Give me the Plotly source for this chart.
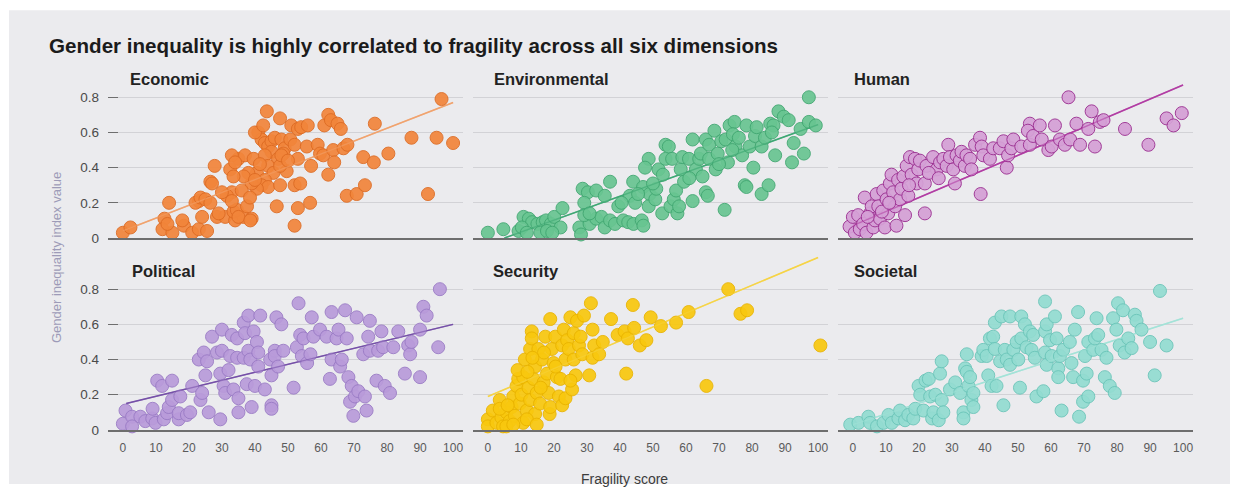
import plotly.graph_objects as go

# ---------------- data ----------------
panel_names = ["Economic", "Environmental", "Human", "Political", "Security", "Societal"]

econ_x = [0, 2.3, 12.6, 14, 12, 15, 13.5, 18.5, 18, 21, 23, 24, 25.5, 23, 22, 23.5, 25, 26.5, 26.5, 27, 27.8,
          28.5, 31, 34, 36.5, 39, 33.5, 34.5, 32.5, 33, 35, 37, 39.6, 40.6, 41, 42, 43, 44, 45, 46, 48, 49, 50.7,
          52, 45, 47, 48.6, 43, 44, 45.6, 43, 42, 44, 40.6, 39, 38, 36.6, 33, 34, 33.5, 31.5, 30, 33, 35, 37.6,
          38.6, 40, 49.6, 47.6, 48, 43.6, 40, 42.5, 47.6, 51, 53, 54, 56, 46.6, 52, 53, 56.7, 52, 53.7, 47.6, 53,
          57, 55.7, 59, 59.7, 60.7, 62.2, 63.7, 64, 61, 62.2, 63, 65, 66, 66.8, 68, 67.8, 70.8, 73.3, 72.8, 76,
          76.3, 80.4, 87.4, 92.4, 96.5, 95, 100, 29, 36, 41.5, 38.5, 50]
econ_y = [0.03, 0.06, 0.11, 0.2, 0.05, 0.03, 0.08, 0.07, 0.1, 0.03, 0.05, 0.12, 0.04, 0.21, 0.2, 0.23, 0.22,
          0.32, 0.2, 0.31, 0.41, 0.12, 0.12, 0.1, 0.12, 0.11, 0.15, 0.16, 0.39, 0.26, 0.45, 0.47, 0.45, 0.37, 0.6,
          0.56, 0.54, 0.52, 0.55, 0.57, 0.56, 0.51, 0.56, 0.53, 0.49, 0.45, 0.48, 0.47, 0.41, 0.37, 0.33, 0.3,
          0.29, 0.28, 0.31, 0.37, 0.35, 0.47, 0.43, 0.35, 0.24, 0.26, 0.21, 0.12, 0.18, 0.1, 0.33, 0.38, 0.41,
          0.47, 0.72, 0.6, 0.64, 0.68, 0.64, 0.62, 0.63, 0.64, 0.18, 0.07, 0.17, 0.2, 0.3, 0.31, 0.3, 0.45, 0.41,
          0.52, 0.53, 0.48, 0.47, 0.36, 0.5, 0.43, 0.64, 0.7, 0.67, 0.65, 0.62, 0.51, 0.53, 0.24, 0.25, 0.3, 0.46,
          0.43, 0.65, 0.48, 0.57, 0.25, 0.79, 0.57, 0.54, 0.14, 0.27, 0.42, 0.23, 0.44]

env_x = [0, 4.7, 9.3, 10.8, 12.4, 13.4, 15, 16.6, 17.6, 19.1, 20.1, 22, 10.3, 11.8, 15.9, 17.9, 19.5, 22.6,
         27.7, 28.2, 30.8, 32.8, 34.4, 35.4, 37, 38.5, 41, 42.5, 44.1, 46.6, 47.1, 28.7, 30.3, 32.8, 29.2, 29.2,
         30.8, 35.4, 37, 39.5, 43, 44, 44.6, 47, 48.7, 47.6, 49, 48.7, 50.7, 51, 51.7, 53, 53.8, 53.8, 54.8,
         52.8, 55.3, 56.3, 57, 57.4, 57.9, 55.8, 58.4, 58.9, 59.4, 60.9, 62, 62, 63, 64, 64.5, 65, 66, 66,
         66.6, 67, 67, 68.6, 69, 69.6, 70.7, 71.7, 72, 72.7, 73.2, 74.7, 74.2, 75, 76, 77, 77.8, 78.3, 78.3,
         79.3, 80.4, 80.9, 81.4, 82.9, 82.9, 83.9, 85, 85.5, 86.5, 87, 88, 89.6, 91.1, 92.1, 92.6, 94.7, 95.7,
         97.2, 97.2, 99.3, 45.5, 50, 40.5, 61, 70, 74, 86]
env_y = [0.03, 0.05, 0.04, 0.12, 0.11, 0.09, 0.08, 0.09, 0.1, 0.08, 0.12, 0.06, 0.06, 0.03, 0.03, 0.04, 0.03,
         0.17, 0.06, 0.02, 0.08, 0.11, 0.12, 0.06, 0.1, 0.08, 0.1, 0.09, 0.08, 0.1, 0.07, 0.28, 0.26, 0.27, 0.2,
         0.13, 0.14, 0.24, 0.32, 0.18, 0.24, 0.32, 0.2, 0.29, 0.45, 0.4, 0.25, 0.18, 0.22, 0.28, 0.39, 0.36,
         0.45, 0.53, 0.52, 0.14, 0.18, 0.22, 0.27, 0.14, 0.18, 0.45, 0.39, 0.46, 0.32, 0.45, 0.56, 0.21, 0.39,
         0.45, 0.48, 0.35, 0.56, 0.26, 0.24, 0.53, 0.45, 0.61, 0.39, 0.48, 0.55, 0.16, 0.56, 0.43, 0.64, 0.66,
         0.59, 0.52, 0.57, 0.47, 0.3, 0.29, 0.64, 0.52, 0.4, 0.58, 0.63, 0.52, 0.25, 0.57, 0.3, 0.65, 0.64,
         0.47, 0.72, 0.69, 0.67, 0.43, 0.54, 0.62, 0.48, 0.8, 0.66, 0.64, 0.25, 0.31, 0.2, 0.34, 0.42, 0.5, 0.6]

hum_x = [-1, 0.6, 0, 1.6, 2.1, 3.1, 3.6, 4.1, 5.2, 5.7, 6.2, 6.7, 7.2, 7.7, 8.2, 9.2, 9.7, 10.2, 10.7, 11.2,
         11.7, 12.2, 12.8, 13.2, 13.7, 14.3, 14.7, 15.3, 15.8, 16.3, 16.8, 17.3, 17.8, 18.8, 19.3, 19.8, 20.3,
         21.8, 21.8, 22.3, 24.3, 25.4, 26.4, 27.4, 28.4, 28.9, 29.4, 30.4, 30.9, 31.4, 32.4, 32.9, 33.9, 34.4,
         35.5, 35.9, 37, 38.5, 38.7, 39, 39.5, 41.5, 42.5, 44.5, 45.6, 46.6, 47, 48, 48.6, 51, 53.6, 53.6, 53,
         54.6, 56.6, 57.2, 59.2, 60.2, 61.2, 62.7, 64.2, 65.3, 65.8, 67.7, 68.8, 71.3, 72.3, 73.3, 74.8, 75.9,
         82.4, 89.5, 95, 97.1, 99.6, 4.5, 8.8, 11, 17, 23, 26]
hum_y = [0.065, 0.03, 0.12, 0.13, 0.05, 0.08, 0.23, 0.03, 0.14, 0.18, 0.06, 0.1, 0.25, 0.18, 0.11, 0.27, 0.06,
         0.22, 0.14, 0.31, 0.36, 0.26, 0.18, 0.07, 0.33, 0.22, 0.28, 0.35, 0.13, 0.41, 0.24, 0.46, 0.36, 0.45,
         0.31, 0.39, 0.44, 0.31, 0.14, 0.41, 0.46, 0.39, 0.43, 0.45, 0.41, 0.53, 0.46, 0.39, 0.31, 0.47, 0.44,
         0.49, 0.41, 0.47, 0.45, 0.39, 0.53, 0.57, 0.25, 0.52, 0.47, 0.45, 0.51, 0.51, 0.55, 0.4, 0.47, 0.51,
         0.56, 0.52, 0.53, 0.65, 0.61, 0.58, 0.64, 0.56, 0.5, 0.52, 0.64, 0.56, 0.53, 0.8, 0.56, 0.65, 0.53,
         0.62, 0.72, 0.52, 0.66, 0.67, 0.62, 0.53, 0.68, 0.64, 0.71, 0.12, 0.15, 0.2, 0.3, 0.37, 0.34]

pol_x = [0, 0.8, 2.8, 2.8, 5.3, 6.8, 8.9, 9, 9.9, 10.4, 11.9, 12.4, 13.4, 13.9, 14.9, 14.9, 16.9, 16.9, 17.4,
         19.4, 20.4, 21, 23.5, 24, 23, 24.5, 25.5, 25, 26, 27, 28.5, 29.5, 29.5, 30, 30.5, 31, 30, 32, 32.5, 33,
         33.5, 34.6, 34.6, 35, 35, 36.6, 36.6, 37, 37.5, 38, 38, 38.6, 39, 39.6, 40, 40.6, 41, 41.6, 41, 43, 45,
         45, 45, 44.6, 46, 46, 46.5, 47, 48, 48.6, 51.7, 52.7, 53.2, 53.7, 54.2, 54.7, 55.8, 56.8, 57.2, 57.7,
         59.7, 61.7, 62.7, 63.2, 63.2, 64.7, 65.3, 65.8, 66.3, 67.3, 67.8, 68.3, 68.8, 69.3, 69.8, 70.3, 70.8,
         71.3, 72.8, 73.3, 73.8, 74.3, 74.8, 74.8, 76.8, 77.3, 78.3, 78.8, 79.3, 80.9, 81.9, 83.4, 85.4, 86.4,
         87, 87.4, 90, 90, 91, 92, 95.5, 96]
pol_y = [0.035, 0.11, 0.075, 0.02, 0.075, 0.05, 0.065, 0.12, 0.04, 0.28, 0.25, 0.06, 0.095, 0.13, 0.28, 0.17,
         0.06, 0.095, 0.19, 0.085, 0.1, 0.25, 0.17, 0.21, 0.4, 0.44, 0.39, 0.31, 0.1, 0.53, 0.44, 0.06, 0.32,
         0.45, 0.25, 0.21, 0.57, 0.34, 0.42, 0.54, 0.23, 0.41, 0.52, 0.18, 0.1, 0.41, 0.61, 0.55, 0.26, 0.65,
         0.45, 0.4, 0.13, 0.56, 0.25, 0.5, 0.36, 0.65, 0.44, 0.23, 0.14, 0.12, 0.31, 0.4, 0.45, 0.42, 0.64, 0.36,
         0.6, 0.45, 0.24, 0.47, 0.72, 0.54, 0.42, 0.52, 0.38, 0.43, 0.64, 0.53, 0.57, 0.53, 0.29, 0.67, 0.4,
         0.52, 0.57, 0.36, 0.4, 0.68, 0.52, 0.3, 0.16, 0.25, 0.08, 0.19, 0.64, 0.22, 0.43, 0.19, 0.11, 0.53,
         0.62, 0.45, 0.28, 0.45, 0.56, 0.47, 0.25, 0.21, 0.47, 0.56, 0.32, 0.48, 0.43, 0.5, 0.3, 0.57, 0.7,
         0.65, 0.47, 0.8]

sec_x = [0, 0, 1.5, 2.6, 3.6, 4.1, 4.6, 5.6, 6.6, 7.2, 7.7, 8.2, 8.7, 9.2, 9.7, 10.2, 10.7, 10.7, 11.2, 11.8,
         12.3, 12.8, 12.8, 13.3, 13.3, 13.8, 14.3, 14.3, 14.8, 15.3, 15.8, 16.4, 16.9, 17.4, 17.9, 18.4, 18.7,
         18.9, 18.9, 19.4, 19.9, 20.4, 20.9, 21.5, 22, 22.5, 22.5, 23, 23.5, 23.5, 24, 24.5, 25, 25.5, 26, 26,
         26.6, 27, 27.6, 28.1, 28.6, 29.1, 30.7, 31.2, 31.7, 31.7, 32.2, 33.7, 34.8, 37.3, 39.3, 41.4, 41.9,
         42.4, 43.9, 44.3, 46, 48, 49.3, 52.4, 57, 60.8, 66.2, 72.8, 76.5, 78.5, 100.7, 3.6, 5.6, 7.7, 11.8,
         14.8, 9, 12, 16, 6, 20.5, 25, 17, 13.5]
sec_y = [0.06, 0.02, 0.11, 0.04, 0.17, 0.07, 0.02, 0.1, 0.05, 0.13, 0.19, 0.08, 0.25, 0.29, 0.15, 0.2, 0.04,
         0.3, 0.4, 0.11, 0.24, 0.46, 0.17, 0.56, 0.52, 0.29, 0.36, 0.09, 0.21, 0.46, 0.15, 0.4, 0.27, 0.53,
         0.32, 0.21, 0.09, 0.63, 0.13, 0.46, 0.38, 0.53, 0.3, 0.19, 0.29, 0.48, 0.14, 0.57, 0.4, 0.18, 0.51,
         0.46, 0.64, 0.23, 0.55, 0.4, 0.31, 0.62, 0.48, 0.53, 0.43, 0.65, 0.31, 0.72, 0.57, 0.41, 0.48, 0.43,
         0.5, 0.63, 0.54, 0.56, 0.32, 0.52, 0.71, 0.58, 0.48, 0.51, 0.64, 0.59, 0.61, 0.67, 0.25, 0.8, 0.66,
         0.68, 0.48, 0.12, 0.02, 0.03, 0.06, 0.03, 0.34, 0.33, 0.24, 0.14, 0.36, 0.28, 0.44, 0.41]

soc_x = [-0.8, 1.7, 4.7, 5.2, 7.3, 9.3, 10.8, 11.8, 13.8, 14.3, 15.8, 16.8, 18.3, 18.9, 19.9, 20.4, 21.4, 22,
         23, 23.4, 24, 24.4, 25, 26, 26.4, 26.9, 26.9, 27.4, 29.4, 31, 32.5, 33.5, 33.5, 34, 34.5, 34.5, 35,
         35.5, 35.9, 36.5, 36.5, 39, 39.5, 40.5, 41, 41.5, 42, 42.5, 43, 43.5, 43, 44.6, 45, 45.6, 46, 46.6,
         47.6, 47.6, 48.6, 49.6, 50.1, 50.6, 51, 51, 52.1, 52.6, 53.6, 54.1, 54.6, 55.1, 55.6, 57.7, 58.2,
         58.2, 58.2, 58.7, 58.7, 59.7, 60.2, 61.2, 61.7, 62.2, 62.2, 62.7, 63.2, 63.7, 65.7, 66.2, 66.7, 67.2,
         68.2, 68.5, 69.7, 69.7, 70.3, 70.8, 71.3, 71.3, 72.8, 73.3, 73.8, 74.3, 75.3, 76.3, 76.8, 77.8, 78.8,
         79.3, 79.8, 80.3, 80.8, 81.8, 82.3, 83.4, 84.4, 85.4, 85.9, 87.4, 90, 91.4, 93, 95]
soc_y = [0.03, 0.04, 0.075, 0.04, 0.02, 0.04, 0.085, 0.04, 0.065, 0.11, 0.055, 0.085, 0.065, 0.12, 0.25, 0.2,
         0.11, 0.28, 0.29, 0.19, 0.065, 0.1, 0.2, 0.055, 0.32, 0.39, 0.17, 0.1, 0.23, 0.27, 0.21, 0.1, 0.065,
         0.35, 0.43, 0.33, 0.25, 0.3, 0.17, 0.13, 0.21, 0.42, 0.455, 0.42, 0.31, 0.52, 0.25, 0.53, 0.61, 0.25,
         0.46, 0.39, 0.645, 0.14, 0.455, 0.4, 0.645, 0.37, 0.455, 0.5, 0.4, 0.24, 0.645, 0.52, 0.6, 0.47, 0.56,
         0.455, 0.54, 0.41, 0.19, 0.22, 0.73, 0.56, 0.44, 0.6, 0.37, 0.51, 0.42, 0.645, 0.52, 0.35, 0.3, 0.42,
         0.11, 0.455, 0.5, 0.38, 0.3, 0.57, 0.67, 0.075, 0.28, 0.16, 0.42, 0.32, 0.19, 0.5, 0.455, 0.52, 0.635,
         0.54, 0.455, 0.3, 0.41, 0.25, 0.635, 0.21, 0.57, 0.72, 0.48, 0.68, 0.44, 0.52, 0.465, 0.655, 0.62,
         0.57, 0.5, 0.31, 0.79, 0.48]

# trend line end points (x0, x1) / (y0, y1)
fit_x = [[0, 100], [5, 100], [0, 100], [1, 100], [0, 100], [0, 100]]
fit_y = [[0.04, 0.77], [0.0, 0.645], [0.07, 0.87], [0.15, 0.60], [0.19, 0.98], [0.03, 0.635]]

x_ticks = [0, 10, 20, 30, 40, 50, 60, 70, 80, 90, 100]
y_ticks = [0, 0.2, 0.4, 0.6, 0.8]
y_ticktext = ["0", "0.2", "0.4", "0.6", "0.8"]

title_text = "Gender inequality is highly correlated to fragility across all six dimensions"
x_title = "Fragility score"
y_title = "Gender inequality index value"

# ---------------- styling ----------------
xs = [econ_x, env_x, hum_x, pol_x, sec_x, soc_x]
ys = [econ_y, env_y, hum_y, pol_y, sec_y, soc_y]
fills = ["#f2853a", "#68c591", "#d5a0d6", "#b99bda", "#f9c80e", "#93dcd1"]
edges = ["#de6c24", "#42a872", "#9c2f92", "#9b7cc6", "#eab400", "#6cc6ba"]
lines = ["#f1a36e", "#3fa874", "#b23da4", "#7650a8", "#f6d446", "#a3e3d8"]

OFF = 8                 # default body margin of the html page
SY = 500 / 492          # observed vertical scale of the captured page
W, H = 1242 - OFF, 484  # figure size


def fx(px):  # target pixel x -> paper fraction
    return (px - OFF) / W


def fy(py):  # target pixel y -> paper fraction
    return (H - (py * SY - OFF)) / H


col_px = [(108, 463), (473, 828), (838, 1193)]
row_px = [(62, 238), (254, 430)]  # top/bottom target pixel of each row plot area
xr = [-4.5, 103]
yr = [0, 1.0]
font = "Liberation Sans, Arial, sans-serif"

fig = go.Figure()
layout = dict(
    width=W, height=H, margin=dict(l=0, r=0, t=0, b=0),
    paper_bgcolor="white", plot_bgcolor="rgba(0,0,0,0)",
    showlegend=False, font=dict(family=font, color="#555555", size=12),
)

for i in range(6):
    r, c = divmod(i, 3)
    ax = "" if i == 0 else str(i + 1)
    fig.add_trace(go.Scatter(
        x=fit_x[i], y=fit_y[i], mode="lines", xaxis="x" + ax, yaxis="y" + ax,
        line=dict(color=lines[i], width=1.5), hoverinfo="skip", cliponaxis=False))
    fig.add_trace(go.Scatter(
        x=xs[i], y=ys[i], mode="markers", xaxis="x" + ax, yaxis="y" + ax,
        marker=dict(size=13, color=fills[i], opacity=0.92, line=dict(color=edges[i], width=1)),
        cliponaxis=False))
    fig.add_trace(go.Scatter(
        x=fit_x[i], y=fit_y[i], mode="lines", xaxis="x" + ax, yaxis="y" + ax,
        line=dict(color=lines[i], width=1.3), opacity=0.55, hoverinfo="skip", cliponaxis=False))
    x0, x1 = col_px[c]
    yt, yb = row_px[r]
    layout["xaxis" + ax] = dict(
        domain=[fx(x0), fx(x1)], range=xr, anchor="y" + ax,
        tickvals=x_ticks, showticklabels=(r == 1), ticks="", showgrid=False, zeroline=False,
        showline=True, linecolor="#6e6e6e", linewidth=1.5,
        tickfont=dict(size=12, color="#5a5a5a"), ticklabelstandoff=6,
    )
    layout["yaxis" + ax] = dict(
        domain=[fy(yb), fy(yt)], range=yr, anchor="x" + ax,
        tickvals=y_ticks, ticktext=y_ticktext, showticklabels=(c == 0),
        ticks="inside" if c == 0 else "", ticklen=10, tickcolor="#6e6e6e", tickwidth=1.2,
        showgrid=True, gridcolor="#d2d2d6", gridwidth=1, zeroline=False, showline=False,
        tickfont=dict(size=13.5, color="#4a4a4a"), ticklabelstandoff=8,
    )

annotations = [
    dict(text="<b>" + title_text + "</b>", x=fx(47), y=fy(45), xref="paper", yref="paper",
         xanchor="left", yanchor="middle", showarrow=False, font=dict(size=20.6, color="#1b1b1b", family=font)),
    dict(text=x_title, x=fx(624), y=fy(479), xref="paper", yref="paper",
         xanchor="center", yanchor="middle", showarrow=False, font=dict(size=14, color="#3c3c3c", family=font)),
    dict(text=y_title, x=fx(57), y=fy(258), xref="paper", yref="paper", textangle=-90,
         xanchor="center", yanchor="middle", showarrow=False, font=dict(size=13, color="#9d9bb8", family=font)),
]
name_pos = [(128, 79), (492, 79), (852, 79), (130, 271), (491, 271), (852, 271)]
for i, name in enumerate(panel_names):
    px, py = name_pos[i]
    annotations.append(dict(text="<b>" + name + "</b>", x=fx(px), y=fy(py), xref="paper", yref="paper",
                            xanchor="left", yanchor="middle", showarrow=False,
                            font=dict(size=16.5, color="#222222", family=font)))
layout["annotations"] = annotations
layout["shapes"] = [dict(type="rect", xref="paper", yref="paper", x0=fx(9), x1=fx(1230),
                         y0=0, y1=fy(10), fillcolor="#ebebee", line=dict(width=0),
                         layer="below")]
fig.update_layout(**layout)
fig.write_html("out.html")
